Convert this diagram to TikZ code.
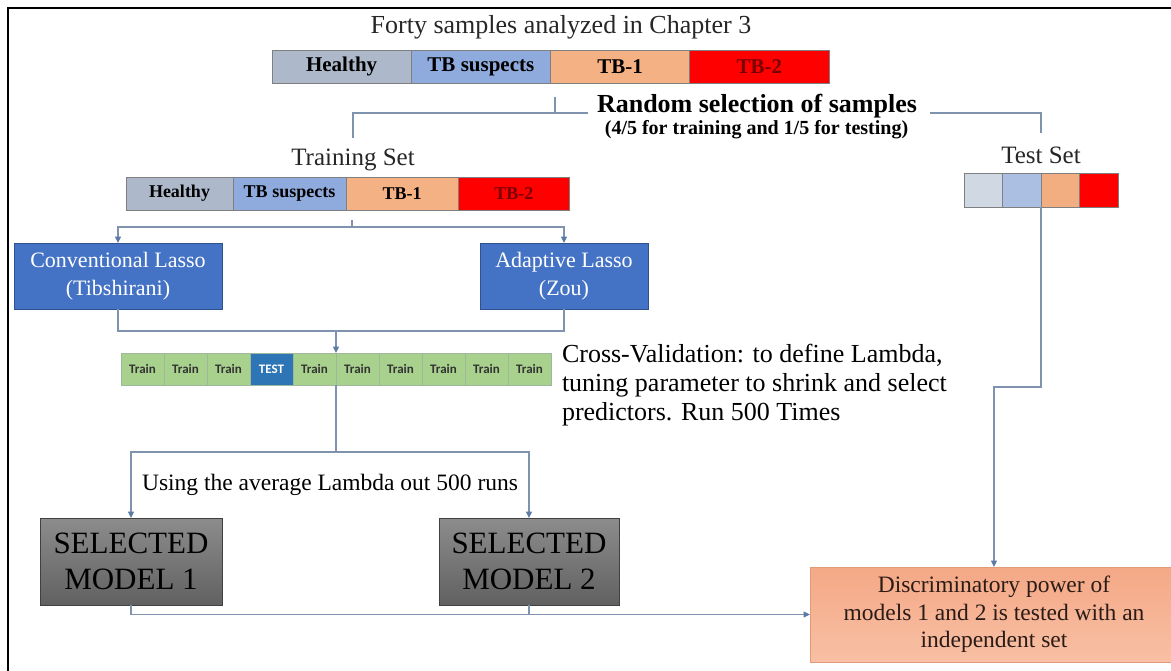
\documentclass[tikz,border=0pt]{standalone}
\usepackage{fontspec}
\setmainfont{Liberation Serif}
\newfontfamily\calibrifont{Carlito}
\usetikzlibrary{arrows.meta}
\definecolor{linec}{HTML}{7F93AE}
\definecolor{arrc}{HTML}{5B7AA6}
\definecolor{segline}{HTML}{7F7F7F}
\definecolor{cHealthy}{HTML}{ADB9CA}
\definecolor{cSusp}{HTML}{8FAADC}
\definecolor{cTBone}{HTML}{F4B183}
\definecolor{cTBtwo}{HTML}{FF0000}
\definecolor{tHealthy}{HTML}{D0D8E4}
\definecolor{tSusp}{HTML}{AABFE2}
\definecolor{tTBone}{HTML}{F2AD80}
\definecolor{tbtwotext}{HTML}{7A0000}
\definecolor{lassoblue}{HTML}{4472C4}
\definecolor{lassoborder}{HTML}{2F528F}
\definecolor{trainc}{HTML}{A9D18E}
\definecolor{testc}{HTML}{2E75B6}
\definecolor{cellline}{HTML}{9FB79A}
\definecolor{titlec}{HTML}{262626}
\definecolor{disctext}{HTML}{2B1B17}
\newcommand\fsz[2]{\fontsize{#1}{#2}\selectfont}
\begin{document}
\begin{tikzpicture}[x=1pt,y=-1pt,
  every node/.style={inner sep=0pt,outer sep=0pt},
  conn/.style={draw=linec,line width=1.2pt},
  arr/.style={conn,-{Triangle[length=6.5pt,width=6pt,color=arrc]}},
  topseg/.style={draw=segline,line width=0.6pt,anchor=north west,minimum height=33pt,font=\bfseries\fsz{21}{25}},
  trseg/.style={draw=segline,line width=0.6pt,anchor=north west,minimum height=33pt,font=\bfseries\fsz{18}{22}},
  teseg/.style={draw=segline,line width=0.6pt,anchor=north west,minimum height=34pt,minimum width=38.5pt},
  lasso/.style={fill=lassoblue,draw=lassoborder,line width=1pt,text=white,align=center,anchor=north west,minimum height=66pt,font=\fsz{22}{28}},
  cell/.style={draw=cellline,line width=0.5pt,anchor=north west,minimum width=43pt,minimum height=32pt,font=\calibrifont\bfseries\fsz{13}{15}},
  traincell/.style={fill=trainc,text=black!80},
  testcell/.style={fill=testc,text=white},
  model/.style={top color=black!45,bottom color=black!62,draw=black!75,line width=0.8pt,align=center,anchor=north west,minimum height=87pt,font=\fsz{31}{36},text=black},
  disc/.style={top color={rgb,255:red,244;green,168;blue,134},bottom color={rgb,255:red,248;green,192;blue,164},draw={rgb,255:red,226;green,155;blue,122},line width=0.8pt,align=center,anchor=north west,minimum height=95pt,minimum width=368pt,font=\fsz{23.5}{27.5},text=disctext}
]
\useasboundingbox (0,0) rectangle (1171,670);
\clip (0,0) rectangle (1171,670);

% frame
\draw[line width=2.6pt,black] (8,672) -- (8,8) -- (1171,8);

% title and top bar
\node[font=\fsz{26}{30},text=titlec,anchor=base] (title) at (561,33) {Forty samples analyzed in Chapter 3};
\node[topseg,fill=cHealthy,minimum width=139.25pt] (t1) at (272,50) {Healthy};
\node[topseg,fill=cSusp,minimum width=139.25pt] (t2) at (411.25,50) {TB suspects};
\node[topseg,fill=cTBone,minimum width=139.25pt] (t3) at (550.5,50) {TB-1};
\node[topseg,fill=cTBtwo,minimum width=139.25pt,text=tbtwotext] (t4) at (689.75,50) {TB-2};

% random selection
\node[font=\bfseries\fsz{26}{30},anchor=base] (rs) at (757,112) {Random selection of samples};
\node[font=\bfseries\fsz{20}{24},anchor=base] (rs2) at (756.5,134) {(4/5 for training and 1/5 for testing)};
\coordinate (a0) at (555,97);
\coordinate (a1) at (555,113);
\coordinate (aR) at (588,113);
\coordinate (aL) at (353,113);
\coordinate (aLe) at (353,138);
\draw[conn] (a0) -- (a1);
\draw[conn] (aR) -- (aL) -- (aLe);
\coordinate (b0) at (930,113);
\coordinate (b1) at (1041,113);
\coordinate (b2) at (1041,133);
\draw[conn] (b0) -- (b1) -- (b2);

% training set
\node[font=\fsz{25}{30},text=titlec,anchor=base] (trs) at (353,165) {Training Set};
\node[trseg,fill=cHealthy,minimum width=107pt] (r1) at (126,177) {Healthy};
\node[trseg,fill=cSusp,minimum width=113pt] (r2) at (233,177) {TB suspects};
\node[trseg,fill=cTBone,minimum width=112pt] (r3) at (346,177) {TB-1};
\node[trseg,fill=cTBtwo,minimum width=111.5pt,text=tbtwotext] (r4) at (458,177) {TB-2};

% test set
\node[font=\fsz{25}{30},text=titlec,anchor=base] (tes) at (1041,163) {Test Set};
\node[teseg,fill=tHealthy] (e1) at (964,173) {};
\node[teseg,fill=tSusp] (e2) at (1002.5,173) {};
\node[teseg,fill=tTBone] (e3) at (1041,173) {};
\node[teseg,fill=cTBtwo] (e4) at (1079.5,173) {};

% lasso boxes
\node[lasso,minimum width=208pt] (cl) at (14,243) {Conventional Lasso\\(Tibshirani)};
\node[lasso,minimum width=168pt] (al) at (480,243) {Adaptive Lasso\\(Zou)};
\coordinate (c0) at (352,220);
\coordinate (c1) at (352,227);
\draw[conn] (c0) -- (c1);
\draw[arr] (c1) -| (cl.north);
\draw[arr] (c1) -| (al.north);

% cross validation bar
\foreach \i/\lab/\st in {0/Train/traincell,1/Train/traincell,2/Train/traincell,3/TEST/testcell,4/Train/traincell,5/Train/traincell,6/Train/traincell,7/Train/traincell,8/Train/traincell,9/Train/traincell}
  \node[cell,\st] (cv\i) at ({121+43*\i},353) {\lab};
\coordinate (j) at (336,331);
\draw[conn] (cl.south) |- (j) -| (al.south);
\draw[arr] (j) -- (cv4.north east);

\node[font=\fsz{26}{29},align=left,anchor=north west] (cvt) at (562,344) {Cross-Validation: to define Lambda,\\tuning parameter to shrink and select\\predictors. Run 500 Times};

% models
\node[model,minimum width=182pt] (m1) at (40,518) {SELECTED\\MODEL 1};
\node[model,minimum width=180pt] (m2) at (439,518) {SELECTED\\MODEL 2};
\coordinate (k) at (336,452);
\draw[conn] (cv4.south east) -- (k);
\draw[arr] (k) -| (m1.north);
\draw[arr] (k) -| (m2.north);
\node[font=\fsz{23.5}{28},anchor=base] (using) at (330,490) {Using the average Lambda out 500 runs};

% discriminatory box
\node[disc] (d) at (810,567) {Discriminatory power of\\models 1 and 2 is tested with an\\independent set};
\draw[arr] (m1.south) |- (d.west);
\draw[conn] (m2.south) -- (m2.south |- d.west);
\coordinate (tt) at (1041,387);
\draw[arr] (e3.south west) -- (tt) -| (d.north);
\end{tikzpicture}
\end{document}
